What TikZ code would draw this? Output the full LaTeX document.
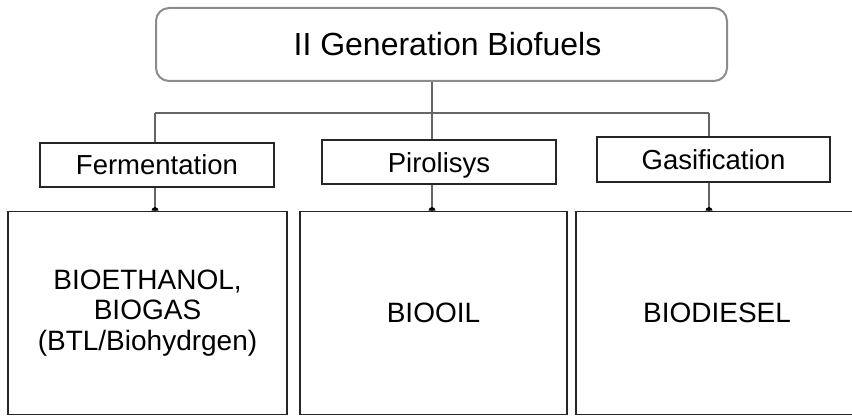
\documentclass[tikz,border=0pt]{standalone}
\usepackage{fontspec}
\setmainfont{Liberation Sans}
\usetikzlibrary{calc}
\begin{document}
\begin{tikzpicture}[x=1pt,y=1pt,
  topbox/.style={draw=black!45,line width=2pt,rounded corners=13pt,fill=white,
    minimum width=571pt,minimum height=73pt,inner sep=0pt,
    font=\fontsize{32}{38}\selectfont},
  midbox/.style={draw=black!85,line width=1.8pt,fill=white,inner sep=0pt,
    minimum height=44pt,text height=19.7pt,text depth=0pt,
    font=\fontsize{27.5}{32}\selectfont},
  botbox/.style={draw=black!85,line width=1.8pt,fill=white,inner sep=0pt,
    minimum height=203pt,align=center,font=\fontsize{28}{30.5}\selectfont},
  link/.style={draw=black!60,line width=1.8pt},
  dotmark/.style={fill=black}]
\useasboundingbox (0,0) rectangle (852,417);
\node[topbox] (top) at (441.5,372.5) {\hspace{12pt}II Generation Biofuels};
\node[midbox,minimum width=234pt] (ferm) at (157,252.3) {Fermentation};
\node[midbox,minimum width=234pt] (piro) at (439,254.8) {Pirolisys};
\node[midbox,minimum width=233pt,minimum height=45pt] (gas) at (713.5,257.2) {Gasification};
\node[botbox,minimum width=279pt] (b1) at (147.5,104) {BIOETHANOL,\\BIOGAS\\(BTL/Biohydrgen)};
\node[botbox,minimum width=267pt] (b2) at (433.5,104) {BIOOIL};
\node[botbox,minimum width=282pt] (b3) at (717,104) {BIODIESEL};
\coordinate (jL) at (155,304);
\coordinate (jM) at (432,304);
\coordinate (jR) at (709,304);
\draw[link] (top.south -| jM) -- (piro.north -| jM);
\draw[link] (jL) -- (jR);
\draw[link] (jL) -- (ferm.north -| jL);
\draw[link] (jR) -- (gas.north -| jR);
\draw[link] (ferm.south -| jL) -- (b1.north -| jL);
\draw[link] (piro.south -| jM) -- (b2.north -| jM);
\draw[link] (gas.south -| jR) -- (b3.north -| jR);
\fill[dotmark] ($(b1.north -| jL)+(-3.5,0)$) arc (180:0:3.5) -- cycle;
\fill[dotmark] ($(b2.north -| jM)+(-3.5,0)$) arc (180:0:3.5) -- cycle;
\fill[dotmark] ($(b3.north -| jR)+(-3.5,0)$) arc (180:0:3.5) -- cycle;
\end{tikzpicture}
\end{document}
